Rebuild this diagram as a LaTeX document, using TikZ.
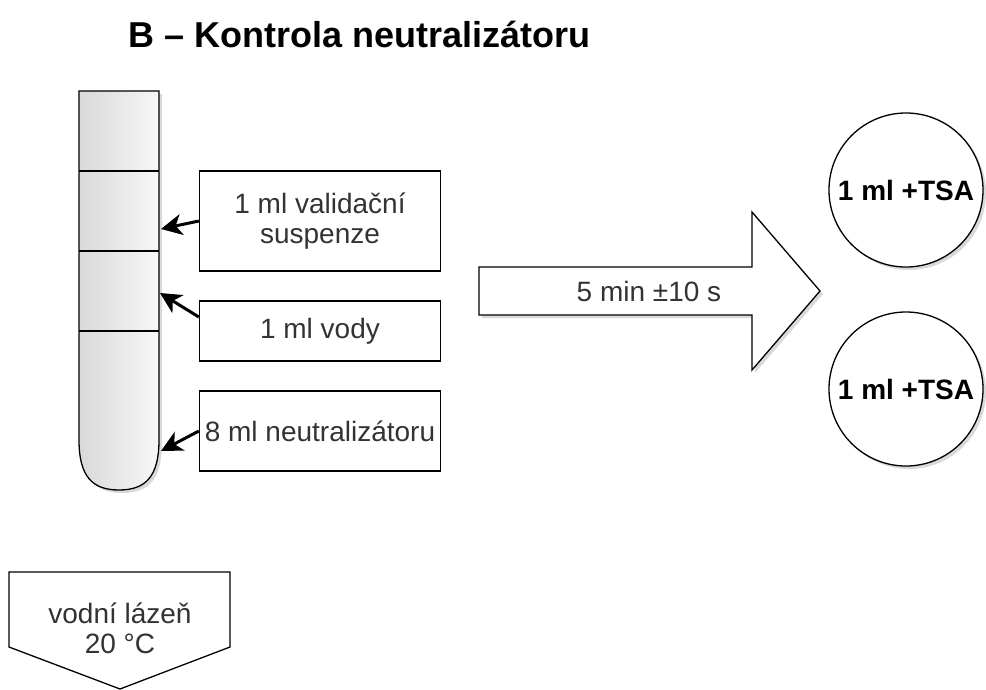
\documentclass[tikz,border=0pt]{standalone}
\usepackage{fontspec}
\setmainfont{Liberation Sans}
\usetikzlibrary{arrows.meta,shadows}
\begin{document}
\begin{tikzpicture}[
  x=1pt, y=-1pt,
  every node/.style={font=\fontsize{28}{30}\selectfont, text=black!80},
  outline/.style={draw, line width=1.3pt},
  shade3/.style={drop shadow={shadow xshift=3pt, shadow yshift=-3pt, opacity=0.3}},
  sbox/.style={outline, minimum width=241pt, inner sep=0pt, align=center},
  plate/.style={circle, outline, minimum size=154pt, inner sep=0pt, fill=white, shade3,
    font=\fontsize{28}{30}\selectfont\bfseries, text=black},
  feed/.style={line width=3pt, -{Stealth[length=21pt, width=21pt, inset=6pt]}}
]
  \useasboundingbox (0,0) rectangle (986,689);
  \node[anchor=base west, font=\fontsize{36}{40}\selectfont\bfseries, text=black] (title) at (125,47) {B – Kontrola neutralizátoru};

  \path[outline, left color=black!15, right color=black!3, shade3]
    (79,91) -- (159,91) -- (159,440) .. controls (159,476) and (146,490) .. (119,490)
    .. controls (92,490) and (79,476) .. (79,440) -- cycle;
  \foreach \y in {171,251,331}
    \draw[line width=1.3pt] (79,\y) -- (159,\y);
  \coordinate (in1) at (161,229);
  \coordinate (in2) at (160,293);
  \coordinate (in3) at (161,451);

  \node[sbox, minimum height=100pt] (susp) at (320,221) {1 ml validační\\suspenze};
  \node[sbox, minimum height=60pt] (voda) at (320,331) {1 ml vody};
  \node[sbox, minimum height=80pt] (neut) at (320,431) {8 ml neutralizátoru};

  \draw[feed] (susp.west) -- (in1);
  \draw[feed] ([yshift=14pt]voda.west) -- (in2);
  \draw[feed] (neut.west) -- (in3);

  \path[outline, fill=white, shade3] (479,267) -- (752,267) -- (752,212) -- (820,291)
    -- (752,370) -- (752,315) -- (479,315) -- cycle;
  \node (mix) at (649,291) {5 min ±10 s};

  \node[plate] (p1) at (906,190) {1 ml +TSA};
  \node[plate] (p2) at (906,389) {1 ml +TSA};

  \draw[outline] (9,572) -- (230,572) -- (230,647) -- (120,689) -- (9,647) -- cycle;
  \node[align=center] (bath) at (120,628) {vodní lázeň\\20 °C};
\end{tikzpicture}
\end{document}
